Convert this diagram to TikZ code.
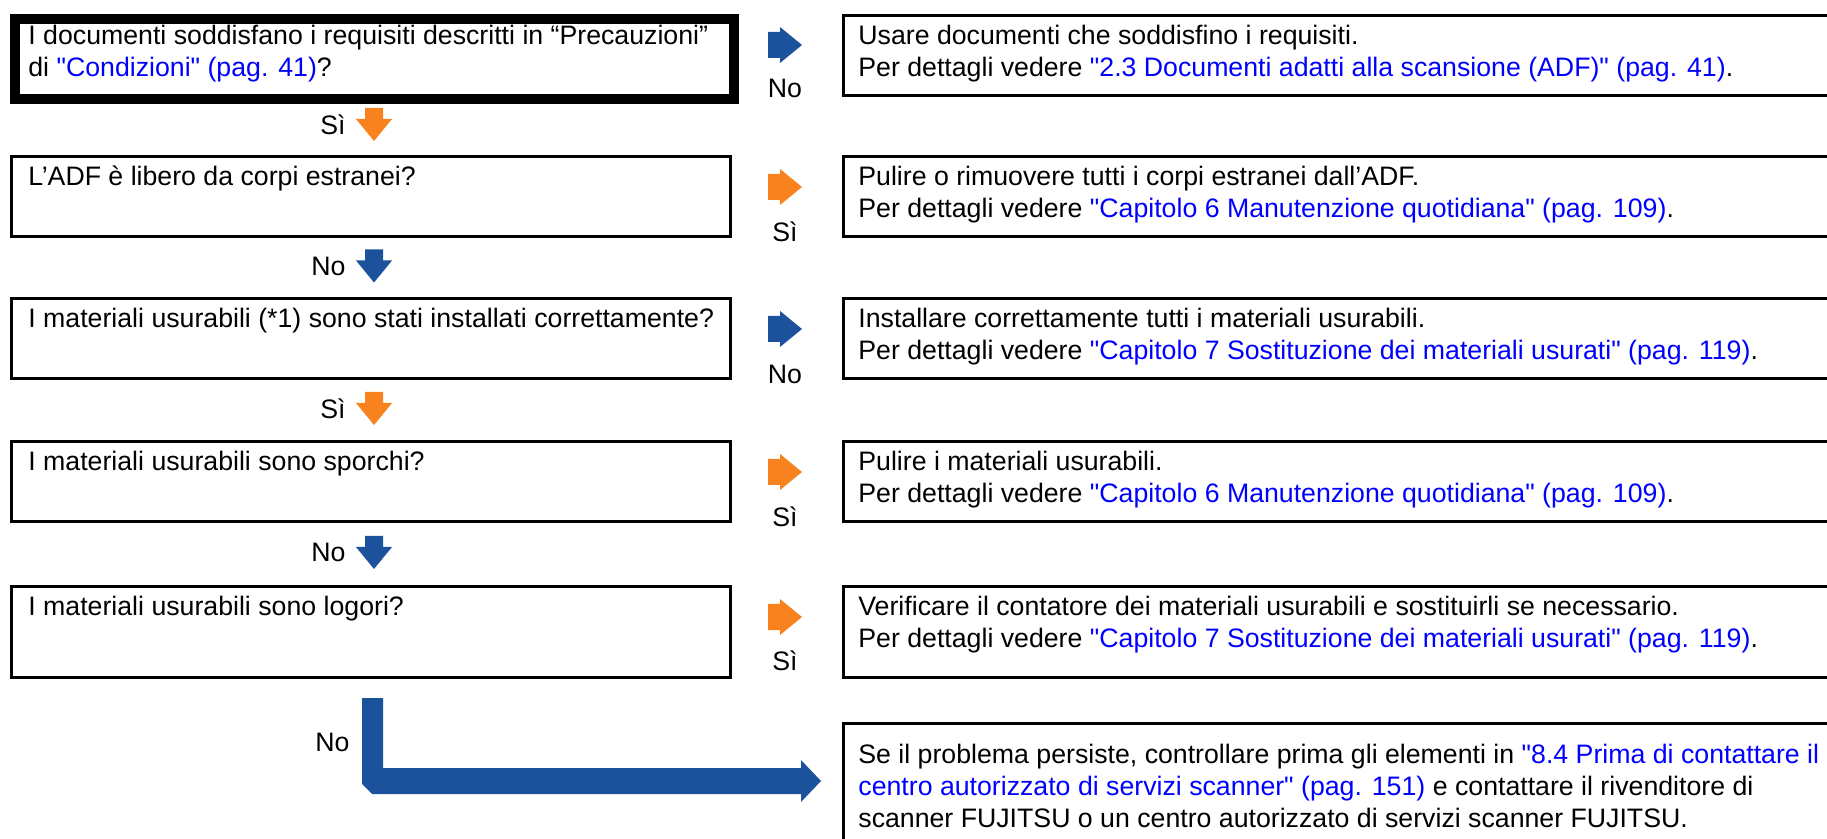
\documentclass[tikz,border=0pt]{standalone}
\usepackage{fontspec}
\setmainfont{Liberation Sans}[Ligatures=TeXOff]
\definecolor{abl}{RGB}{28,82,156}
\definecolor{aor}{RGB}{247,130,30}
\definecolor{lnk}{RGB}{0,0,255}
\newcommand\fs{\fontsize{13.35pt}{16pt}\selectfont}
\newcommand\lk[1]{\textcolor{lnk}{#1}}
\begin{document}
\begin{tikzpicture}[x=0.5pt,y=-0.5pt,
  lbox/.style={draw, line width=1.5pt, anchor=north west, inner sep=0pt, minimum width=359.5pt},
  rbox/.style={draw, line width=1.5pt, anchor=north west, inner sep=0pt, minimum width=509pt},
  txt/.style={anchor=north west, inner sep=0pt, align=left, font=\fs},
  lbl/.style={font=\fs, inner sep=0pt},
  rarr/.pic={\fill[pic actions] (0,-13) -- (12,-13) -- (12,-18) -- (34,0) -- (12,18) -- (12,13) -- (0,13) -- cycle;},
  darr/.pic={\fill[pic actions] (-9,-16.5) -- (9,-16.5) -- (9,-5.5) -- (18,-5.5) -- (0,16.5) -- (-18,-5.5) -- (-9,-5.5) -- cycle;}
]
\useasboundingbox (0,0) rectangle (1827,839);
\fill[white] (0,0) rectangle (1827,839);
\clip (0,0) rectangle (1827,839);

% left boxes
\node[lbox, line width=4.8pt, minimum height=40pt] (L1) at (10,14) {};
\node[lbox, minimum height=40pt] (L2) at (10,155) {};
\node[lbox, minimum height=40pt] (L3) at (10,297) {};
\node[lbox, minimum height=40pt] (L4) at (10,440) {};
\node[lbox, minimum height=45.5pt] (L5) at (10,585) {};

% right boxes
\node[rbox, minimum height=40pt] (R1) at (842,14) {};
\node[rbox, minimum height=40pt] (R2) at (842,155) {};
\node[rbox, minimum height=40pt] (R3) at (842,297) {};
\node[rbox, minimum height=40pt] (R4) at (842,440) {};
\node[rbox, minimum height=45.5pt] (R5) at (842,585) {};
\node[rbox, minimum height=100pt] (R6) at (842,722) {};

% left texts
\node[txt] (t1) at (28,21.6) {\strut I documenti soddisfano i requisiti descritti in “Precauzioni”\\\strut di \lk{"Condizioni" (pag. 41)}?};
\node[txt] (t2) at (28,162.6) {\strut L’ADF è libero da corpi estranei?};
\node[txt] (t3) at (28,304.6) {\strut I materiali usurabili (*1) sono stati installati correttamente?};
\node[txt] (t4) at (28,447.6) {\strut I materiali usurabili sono sporchi?};
\node[txt] (t5) at (28,592.6) {\strut I materiali usurabili sono logori?};

% right texts
\node[txt] (s1) at (858,21.6) {\strut Usare documenti che soddisfino i requisiti.\\\strut Per dettagli vedere \lk{"2.3 Documenti adatti alla scansione (ADF)" (pag. 41)}.};
\node[txt] (s2) at (858,162.6) {\strut Pulire o rimuovere tutti i corpi estranei dall’ADF.\\\strut Per dettagli vedere \lk{"Capitolo 6 Manutenzione quotidiana" (pag. 109)}.};
\node[txt] (s3) at (858,304.6) {\strut Installare correttamente tutti i materiali usurabili.\\\strut Per dettagli vedere \lk{"Capitolo 7 Sostituzione dei materiali usurati" (pag. 119)}.};
\node[txt] (s4) at (858,447.6) {\strut Pulire i materiali usurabili.\\\strut Per dettagli vedere \lk{"Capitolo 6 Manutenzione quotidiana" (pag. 109)}.};
\node[txt] (s5) at (858,592.6) {\strut Verificare il contatore dei materiali usurabili e sostituirli se necessario.\\\strut Per dettagli vedere \lk{"Capitolo 7 Sostituzione dei materiali usurati" (pag. 119)}.};
\node[txt] (s6) at (858,740.6) {\strut Se il problema persiste, controllare prima gli elementi in \lk{"8.4 Prima di contattare il}\\\strut \lk{centro autorizzato di servizi scanner" (pag. 151)} e contattare il rivenditore di\\\strut scanner FUJITSU o un centro autorizzato di servizi scanner FUJITSU.};

% right arrows and labels
\pic[fill=abl] at (768,45) {rarr};
\node[lbl] (n1) at (785,88) {No};
\pic[fill=aor] at (768,187) {rarr};
\node[lbl] (n2) at (785,232) {Sì};
\pic[fill=abl] at (768,329) {rarr};
\node[lbl] (n3) at (785,374) {No};
\pic[fill=aor] at (768,472) {rarr};
\node[lbl] (n4) at (785,517) {Sì};
\pic[fill=aor] at (768,617) {rarr};
\node[lbl] (n5) at (785,661) {Sì};

% down arrows and labels
\pic[fill=aor] at (374,124.5) {darr};
\node[lbl, anchor=east] (d1) at (346,124.5) {Sì};
\pic[fill=abl] at (374,266) {darr};
\node[lbl, anchor=east] (d2) at (346,266) {No};
\pic[fill=aor] at (374,408.5) {darr};
\node[lbl, anchor=east] (d3) at (346,408.5) {Sì};
\pic[fill=abl] at (374,552.5) {darr};
\node[lbl, anchor=east] (d4) at (346,552.5) {No};

% final L-shaped arrow
\fill[abl] (362,698) -- (383,698) -- (383,768) -- (801,768) -- (801,760) -- (821,781) -- (801,802) -- (801,794) -- (372,794) -- (362,784) -- cycle;
\node[lbl, anchor=east] (d5) at (350,742) {No};
\end{tikzpicture}
\end{document}
